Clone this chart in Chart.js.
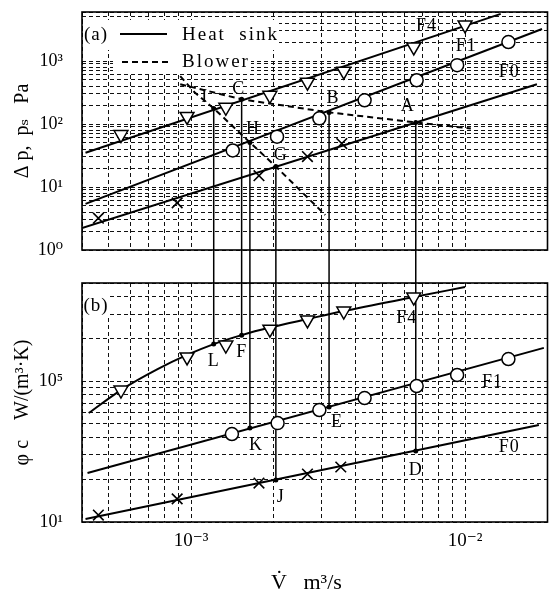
<!doctype html>
<html lang="en">
<head>
<meta charset="utf-8">
<title>Heat sink / blower characteristics</title>
<script src="https://cdn.jsdelivr.net/npm/chart.js"></script>
<style>
  body { margin: 0; background: #fff; }
  #wrap { position: relative; width: 557px; height: 594px; background: #fff; }
  #wrap canvas { position: absolute; left: 0; }
</style>
</head>
<body>
<div id="wrap">
  <canvas id="panel_a" width="557" height="267" style="top:0"></canvas>
  <canvas id="panel_b" width="557" height="327" style="top:267px"></canvas>
</div>
<script>
// ---- values, V in m3/s ----
// (a) pressure drop of the heat sinks, Pa
const f4aV = [5.55e-4, 9.67e-4, 1.34e-3, 1.94e-3, 2.66e-3, 3.61e-3, 6.50e-3, 1.00e-2];
const f4aP = [68, 132, 184, 286, 461, 690, 1670, 3740];
const f4aFitV = [4.12e-4, 1.35e-2];
const f4aFitP = [35, 5600];

const f1aV = [1.42e-3, 2.06e-3, 2.94e-3, 4.30e-3, 6.66e-3, 9.36e-3, 1.44e-2];
const f1aP = [38, 63, 123, 238, 496, 860, 2000];
const f1aFitV = [4.12e-4, 1.91e-2];
const f1aFitP = [5.4, 3230];

const f0aV = [4.59e-4, 8.90e-4, 1.77e-3, 2.66e-3, 3.55e-3];
const f0aP = [3.2, 5.6, 15.1, 30.4, 49];
const f0aFitV = [4.0e-4, 1.83e-2];
const f0aFitP = [2.24, 428];

// (a) blower static pressure, Pa
const blowerSV = [9.13e-4, 1.03e-3, 1.21e-3, 1.64e-3, 2.04e-3, 3.09e-3];
const blowerSP = [574, 319, 177, 51, 21.1, 3.6];
const blowerLV = [9.13e-4, 1.53e-3, 3.19e-3, 6.61e-3, 1.05e-2];
const blowerLP = [428, 247, 153, 106, 85];

// operating points
const opTagA = ['I', 'C', 'H', 'G', 'B', 'A'];
const opTagB = ['L', 'F', 'K', 'J', 'E', 'D'];
const opV = [1.21e-3, 1.53e-3, 1.64e-3, 2.04e-3, 3.19e-3, 6.61e-3];
const opP = [177, 247, 51, 21.1, 153, 106];
const opPhi = [1.84e5, 2.13e5, 4.66e4, 1.99e4, 6.57e4, 3.20e4];

// (b) phi_c, W/(m3 K)
const f4bV = [5.55e-4, 9.67e-4, 1.34e-3, 1.94e-3, 2.66e-3, 3.61e-3, 6.50e-3];
const f4bPhi = [8.67e4, 1.49e5, 1.81e5, 2.35e5, 2.73e5, 3.16e5, 3.97e5];
const f4bFitV = [4.23e-4, 5.55e-4, 7.55e-4, 9.67e-4, 1.21e-3, 1.53e-3, 1.94e-3, 2.66e-3, 3.61e-3, 6.50e-3, 1.00e-2];
const f4bFitPhi = [5.95e4, 8.67e4, 1.22e5, 1.54e5, 1.84e5, 2.13e5, 2.41e5, 2.77e5, 3.16e5, 3.97e5, 4.68e5];

const f1bV = [1.41e-3, 2.07e-3, 2.94e-3, 4.30e-3, 6.66e-3, 9.36e-3, 1.44e-2];
const f1bPhi = [4.22e4, 5.05e4, 6.25e4, 7.61e4, 9.26e4, 1.11e5, 1.44e5];
const f1bFitV = [4.19e-4, 1.94e-2];
const f1bFitPhi = [2.23e4, 1.73e5];

const f0bV = [4.59e-4, 8.90e-4, 1.77e-3, 2.66e-3, 3.52e-3];
const f0bPhi = [1.12e4, 1.46e4, 1.89e4, 2.19e4, 2.46e4];
const f0bFitV = [4.12e-4, 1.86e-2];
const f0bFitPhi = [1.05e4, 4.89e4];

// curve names and where they sit
const curveTags = ['F4', 'F1', 'F0'];
const curveTagAV = [7.24e-3, 1.01e-2, 1.45e-2];
const curveTagAP = [3600, 1730, 665];
const curveTagBV = [6.13e-3, 1.26e-2, 1.45e-2];
const curveTagBPhi = [2.82e5, 9.89e4, 3.41e4];

// axis ranges and decade labels
const vRange = [4e-4, 2e-2];
const pRange = [1, 6000];
const phiRange = [1e4, 5e5];
const vLabels = { '-3': '10⁻³', '-2': '10⁻²' };
const pLabels = { '0': '10⁰', '1': '10¹', '2': '10²', '3': '10³' };
const phiLabels = { '4': '10¹', '5': '10⁵' };

// ---- drawing ----
const serif = '"Liberation Serif", "DejaVu Serif", serif';
Chart.defaults.font.family = serif;
Chart.defaults.color = '#000';

const pts = (xs, ys) => xs.map((x, i) => ({ x: x, y: ys[i] }));

function logGrid(min, max) {
  const ticks = [];
  for (let e = Math.floor(Math.log10(min)); e <= Math.ceil(Math.log10(max)); e++) {
    for (let m = 1; m <= 9; m++) {
      const v = Number((m * Math.pow(10, e)).toPrecision(6));
      if (v >= min * 0.9999 && v <= max * 1.0001) ticks.push({ value: v });
    }
  }
  return ticks;
}

function decadeLabel(map) {
  return v => {
    const e = Math.log10(v);
    const r = Math.round(e);
    return Math.abs(e - r) < 1e-6 && map[r] !== undefined ? map[r] : '';
  };
}

// fixed axis sizes so both panels line up; drop the label overhang padding
function fixWidth(w) {
  return s => { s.width = w; s.paddingTop = 0; s.paddingBottom = 0; };
}
function fixHeight(h) {
  return s => { s.height = h; s.paddingLeft = 0; s.paddingRight = 0; };
}

function logAxis(range, opts) {
  return Object.assign({
    type: 'logarithmic', min: range[0], max: range[1],
    afterBuildTicks: s => { s.ticks = logGrid(range[0], range[1]); },
    grid: { color: '#111', lineWidth: 1, drawTicks: false },
    border: { display: false, dash: [4, 3] }
  }, opts);
}

function fit(data, smooth) {
  return { data: data, showLine: true, borderColor: '#000', borderWidth: 2, pointRadius: 0,
    cubicInterpolationMode: smooth ? 'monotone' : 'default', order: 2 };
}
function dashed(data) {
  return { data: data, showLine: true, borderColor: '#000', borderWidth: 2, borderDash: [6, 4],
    pointRadius: 0, order: 3 };
}
function marks(data, kind) {
  const ds = { data: data, showLine: false, pointBorderColor: '#000', pointBackgroundColor: '#fff',
    pointBorderWidth: 1.5, order: 0 };
  if (kind === 'tri') Object.assign(ds, { pointStyle: 'triangle', pointRotation: 180, pointRadius: 8 });
  if (kind === 'circ') Object.assign(ds, { pointStyle: 'circle', pointRadius: 6.5 });
  if (kind === 'x') Object.assign(ds, { pointStyle: 'crossRot', pointRadius: 7.5, pointBorderWidth: 1.6 });
  return ds;
}
function dots(data) {
  return { data: data, showLine: false, pointRadius: 2.5, pointBackgroundColor: '#000',
    pointBorderColor: '#000', pointBorderWidth: 0, order: 0 };
}

function label(ctx, str, x, y, size, align) {
  ctx.font = size + 'px ' + serif;
  ctx.fillStyle = '#000';
  ctx.textAlign = align || 'center';
  ctx.textBaseline = 'middle';
  ctx.letterSpacing = '1px';
  ctx.fillText(str, x, y);
}

function drawFrame(chart) {
  const { ctx, chartArea: a } = chart;
  ctx.save();
  ctx.strokeStyle = '#000';
  ctx.lineWidth = 1.6;
  ctx.strokeRect(a.left, a.top, a.right - a.left, a.bottom - a.top);
  ctx.restore();
}

// vertical lines joining the operating points of (a) and (b)
function drawLinks(chart, ys, down) {
  const { ctx, scales: { x, y } } = chart;
  ctx.save();
  ctx.strokeStyle = '#000';
  ctx.lineWidth = 1.5;
  opV.forEach((v, i) => {
    const px = x.getPixelForValue(v);
    ctx.beginPath();
    ctx.moveTo(px, y.getPixelForValue(ys[i]));
    ctx.lineTo(px, down ? chart.height : 0);
    ctx.stroke();
  });
  ctx.restore();
}

const tagOffA = [[-9, -11], [-3, -10], [3, -13], [5, -11], [4, -14], [-8, -16]];
const tagOffB = [[0, 17], [0, 17], [6, 17], [5, 17], [8, 15], [0, 19]];

const panelA = {
  id: 'panelA',
  beforeDatasetsDraw(chart) {
    const { ctx, chartArea: a } = chart;
    ctx.save();
    ctx.fillStyle = '#fff';
    ctx.fillRect(a.left + 1, a.top + 8, 196, 30);
    ctx.fillRect(a.left + 31, a.top + 38, 138, 23);
    ctx.restore();
    drawLinks(chart, opP, true);
  },
  afterDatasetsDraw(chart) {
    const { ctx, chartArea: a, scales: { x, y } } = chart;
    drawFrame(chart);
    ctx.save();
    // legend
    label(ctx, '(a)', a.left + 14, a.top + 23, 19);
    ctx.strokeStyle = '#000';
    ctx.lineWidth = 2;
    ctx.beginPath();
    ctx.moveTo(a.left + 38, a.top + 22);
    ctx.lineTo(a.left + 85, a.top + 22);
    ctx.stroke();
    ctx.setLineDash([6, 4]);
    ctx.beginPath();
    ctx.moveTo(a.left + 40, a.top + 50);
    ctx.lineTo(a.left + 86, a.top + 50);
    ctx.stroke();
    ctx.setLineDash([]);
    ctx.font = '19px ' + serif;
    ctx.letterSpacing = '2px';
    ctx.textAlign = 'left';
    ctx.textBaseline = 'middle';
    ctx.fillStyle = '#000';
    ctx.fillText('Heat  sink', a.left + 100, a.top + 23);
    ctx.fillText('Blower', a.left + 100, a.top + 50);
    // point names
    opTagA.forEach((t, i) => {
      label(ctx, t, x.getPixelForValue(opV[i]) + tagOffA[i][0], y.getPixelForValue(opP[i]) + tagOffA[i][1], 18);
    });
    curveTags.forEach((t, i) => {
      label(ctx, t, x.getPixelForValue(curveTagAV[i]), y.getPixelForValue(curveTagAP[i]), 18);
    });
    ctx.restore();
  }
};

const panelB = {
  id: 'panelB',
  beforeDatasetsDraw(chart) {
    const { ctx, chartArea: a } = chart;
    ctx.save();
    ctx.fillStyle = '#fff';
    ctx.fillRect(a.left + 1, a.top + 1, 27, 32);
    ctx.restore();
    drawLinks(chart, opPhi, false);
  },
  afterDatasetsDraw(chart) {
    const { ctx, chartArea: a, scales: { x, y } } = chart;
    drawFrame(chart);
    ctx.save();
    label(ctx, '(b)', a.left + 14, a.top + 23, 19);
    opTagB.forEach((t, i) => {
      label(ctx, t, x.getPixelForValue(opV[i]) + tagOffB[i][0], y.getPixelForValue(opPhi[i]) + tagOffB[i][1], 18);
    });
    curveTags.forEach((t, i) => {
      label(ctx, t, x.getPixelForValue(curveTagBV[i]), y.getPixelForValue(curveTagBPhi[i]), 18);
    });
    ctx.restore();
  }
};

const common = {
  responsive: false,
  animation: false,
  events: [],
  plugins: { legend: { display: false }, tooltip: { enabled: false } }
};

new Chart(document.getElementById('panel_a'), {
  type: 'scatter',
  data: {
    datasets: [
      marks(pts(f4aV, f4aP), 'tri'),
      marks(pts(f1aV, f1aP), 'circ'),
      marks(pts(f0aV, f0aP), 'x'),
      dots(pts(opV, opP)),
      fit(pts(f4aFitV, f4aFitP)),
      fit(pts(f1aFitV, f1aFitP)),
      fit(pts(f0aFitV, f0aFitP)),
      dashed(pts(blowerSV, blowerSP)),
      dashed(pts(blowerLV, blowerLP))
    ]
  },
  options: Object.assign({}, common, {
    layout: { padding: { left: 0, right: 1, top: 12, bottom: 0 } },
    scales: {
      x: logAxis(vRange, {
        afterFit: fixHeight(17),
        ticks: { display: false, autoSkip: false }
      }),
      y: logAxis(pRange, {
        afterFit: fixWidth(82),
        ticks: { autoSkip: false, padding: 19, font: { size: 18 }, callback: decadeLabel(pLabels) },
        title: { display: true, text: 'Δ p,  pₛ   Pa', font: { size: 20 }, padding: { top: 11, bottom: 0 } }
      })
    }
  }),
  plugins: [panelA]
});

new Chart(document.getElementById('panel_b'), {
  type: 'scatter',
  data: {
    datasets: [
      marks(pts(f4bV, f4bPhi), 'tri'),
      marks(pts(f1bV, f1bPhi), 'circ'),
      marks(pts(f0bV, f0bPhi), 'x'),
      dots(pts(opV, opPhi)),
      fit(pts(f4bFitV, f4bFitPhi), true),
      fit(pts(f1bFitV, f1bFitPhi)),
      fit(pts(f0bFitV, f0bFitPhi))
    ]
  },
  options: Object.assign({}, common, {
    layout: { padding: { left: 0, right: 1, top: 16, bottom: 0 } },
    scales: {
      x: logAxis(vRange, {
        afterFit: fixHeight(72),
        ticks: { autoSkip: false, maxRotation: 0, padding: 8, font: { size: 19 }, callback: decadeLabel(vLabels) },
        title: { display: true, text: 'V\u0307   m³/s   ', font: { size: 22, lineHeight: 1 }, padding: { top: 0, bottom: 0 } }
      }),
      y: logAxis(phiRange, {
        afterFit: fixWidth(82),
        ticks: { autoSkip: false, padding: 19, font: { size: 18 }, callback: decadeLabel(phiLabels) },
        title: { display: true, text: 'φ c    W/(m³·K)', font: { size: 20 }, padding: { top: 11, bottom: 0 } }
      })
    }
  }),
  plugins: [panelB]
});
</script>
</body>
</html>
